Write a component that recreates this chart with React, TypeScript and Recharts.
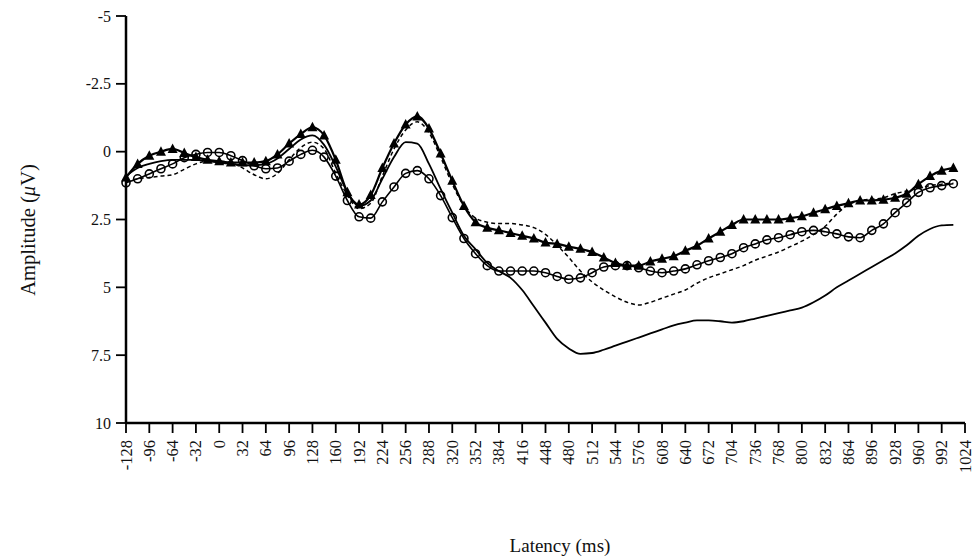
import { LineChart, Line, XAxis, YAxis } from "recharts";

// latency in ms, sampled every 16 ms
const latency = [
  -128, -112, -96, -80, -64, -48, -32, -16, 0, 16, 32, 48, 64, 80, 96, 112, 128,
  144, 160, 176, 192, 208, 224, 240, 256, 272, 288, 304, 320, 336, 352, 368, 384,
  400, 416, 432, 448, 464, 480, 496, 512, 528, 544, 560, 576, 592, 608, 624, 640,
  656, 672, 688, 704, 720, 736, 752, 768, 784, 800, 816, 832, 848, 864, 880, 896,
  912, 928, 944, 960, 976, 992, 1008,
];

// amplitude in microvolts (negative up)
const solidLine = [
  0.9, 0.6, 0.45, 0.35, 0.3, 0.3, 0.3, 0.35, 0.4, 0.45, 0.5, 0.5, 0.45, 0.25, -0.1,
  -0.45, -0.6, -0.25, 0.55, 1.5, 2.0, 1.8, 1.0, 0.2, -0.35, -0.3, 0.45, 1.37, 2.25,
  3.1, 3.6, 4.1, 4.4, 4.65, 5.1, 5.7, 6.3, 6.9, 7.25, 7.45, 7.42, 7.3, 7.15, 7.0,
  6.85, 6.7, 6.55, 6.4, 6.3, 6.22, 6.22, 6.25, 6.3, 6.25, 6.15, 6.05, 5.95, 5.85,
  5.75, 5.55, 5.3, 5.0, 4.75, 4.5, 4.25, 4.0, 3.75, 3.45, 3.1, 2.85, 2.72, 2.7,
];

const dashedLine = [
  1.1, 1.0, 0.95, 0.9, 0.85, 0.65, 0.45, 0.35, 0.35, 0.4, 0.6, 0.85, 1.0, 0.8, 0.3,
  -0.15, -0.35, -0.1, 0.8, 1.6, 2.1, 1.9, 0.9, -0.1, -0.8, -1.1, -0.7, 0.2, 1.2,
  2.0, 2.45, 2.6, 2.65, 2.65, 2.7, 2.8, 3.05, 3.45, 3.9, 4.4, 4.8, 5.1, 5.35, 5.55,
  5.65, 5.55, 5.4, 5.25, 5.1, 4.85, 4.65, 4.5, 4.35, 4.2, 4.0, 3.85, 3.7, 3.5, 3.3,
  3.05, 2.75, 2.3, 1.95, 1.8, 1.75, 1.7, 1.55, 1.45, 1.35, 1.25, 1.2, 1.15,
];

const triangleLine = [
  0.95, 0.45, 0.15, 0.0, -0.1, 0.05, 0.2, 0.3, 0.35, 0.4, 0.4, 0.4, 0.35, 0.1, -0.3,
  -0.65, -0.9, -0.6, 0.3, 1.5, 1.95, 1.6, 0.6, -0.3, -1.0, -1.3, -0.85, 0.07, 1.07,
  2.0, 2.6, 2.8, 2.9, 3.0, 3.1, 3.2, 3.35, 3.4, 3.5, 3.58, 3.7, 3.9, 4.1, 4.2, 4.2,
  4.05, 3.95, 3.85, 3.65, 3.47, 3.2, 2.95, 2.7, 2.5, 2.5, 2.5, 2.5, 2.45, 2.38, 2.25,
  2.12, 2.0, 1.9, 1.8, 1.8, 1.77, 1.7, 1.55, 1.2, 0.9, 0.7, 0.6,
];

const circleLine = [
  1.15, 1.0, 0.82, 0.63, 0.45, 0.22, 0.1, 0.03, 0.03, 0.15, 0.33, 0.52, 0.63, 0.6,
  0.35, 0.1, -0.05, 0.2, 0.9, 1.8, 2.4, 2.45, 1.85, 1.3, 0.8, 0.7, 1.0, 1.62, 2.43,
  3.2, 3.76, 4.2, 4.4, 4.4, 4.4, 4.4, 4.46, 4.6, 4.7, 4.65, 4.46, 4.25, 4.2, 4.2,
  4.28, 4.4, 4.46, 4.4, 4.32, 4.17, 4.02, 3.9, 3.76, 3.54, 3.4, 3.25, 3.17, 3.06,
  2.95, 2.9, 2.95, 3.03, 3.14, 3.17, 2.9, 2.66, 2.25, 1.88, 1.5, 1.33, 1.25, 1.18,
];

const xTicks = [
  -128, -96, -64, -32, 0, 32, 64, 96, 128, 160, 192, 224, 256, 288, 320, 352, 384,
  416, 448, 480, 512, 544, 576, 608, 640, 672, 704, 736, 768, 800, 832, 864, 896,
  928, 960, 992, 1024,
];
const yTicks = [-5, -2.5, 0, 2.5, 5, 7.5, 10];

const serif = "'Liberation Serif', 'DejaVu Serif', serif";

const data = latency.map((t, i) => ({
  t,
  solid: solidLine[i],
  dashed: dashedLine[i],
  tri: triangleLine[i],
  circ: circleLine[i],
}));

const XTick = (props: any) => {
  const { x, y, payload } = props;
  return (
    <text
      transform={`translate(${x},${y + 5}) rotate(-90)`}
      textAnchor="end"
      dominantBaseline="central"
      fontSize={16.5}
      fontFamily={serif}
      fill="#111"
    >
      {payload.value}
    </text>
  );
};

const YTick = (props: any) => {
  const { x, y, payload } = props;
  return (
    <text
      x={x - 3}
      y={y}
      textAnchor="end"
      dominantBaseline="central"
      fontSize={16}
      fontFamily={serif}
      fill="#111"
    >
      {payload.value}
    </text>
  );
};

const YLabel = () => (
  <text
    transform="translate(28,230) rotate(-90)"
    textAnchor="middle"
    dominantBaseline="central"
    fontSize={20.5}
    fontFamily={serif}
    fill="#111"
  >
    Amplitude (<tspan fontStyle="italic">μ</tspan>V)
  </text>
);

const XLabel = () => (
  <text
    x={560}
    y={545}
    textAnchor="middle"
    dominantBaseline="central"
    fontSize={19}
    fontFamily={serif}
    fill="#111"
  >
    Latency (ms)
  </text>
);

const triangleDot = (props: any) => {
  const { cx, cy, key } = props;
  if (cx == null || cy == null) return <g key={key} />;
  return (
    <polygon
      key={key}
      points={`${cx},${cy - 5.5} ${cx - 5},${cy + 4} ${cx + 5},${cy + 4}`}
      fill="#000"
    />
  );
};

export default function App() {
  return (
    <div style={{ position: "absolute", left: 0, top: 0, background: "#fff" }}>
      <LineChart
        width={977}
        height={559}
        data={data}
        margin={{ top: 16, right: 12, bottom: 0, left: 0 }}
      >
        <XAxis
          dataKey="t"
          type="number"
          domain={[-128, 1024]}
          ticks={xTicks}
          interval={0}
          height={136}
          tickSize={10}
          tick={<XTick />}
          axisLine={{ stroke: "#000", strokeWidth: 2.5 }}
          tickLine={{ stroke: "#000", strokeWidth: 1.8 }}
          label={<XLabel />}
        />
        <YAxis
          type="number"
          domain={[-5, 10]}
          reversed
          ticks={yTicks}
          interval={0}
          width={126}
          tickSize={10}
          tick={<YTick />}
          axisLine={{ stroke: "#000", strokeWidth: 2.5 }}
          tickLine={{ stroke: "#000", strokeWidth: 1.8 }}
          label={<YLabel />}
        />
        <Line
          type="monotone"
          dataKey="dashed"
          stroke="#000"
          strokeWidth={1.5}
          strokeDasharray="4 3"
          dot={false}
          isAnimationActive={false}
        />
        <Line
          type="monotone"
          dataKey="solid"
          stroke="#000"
          strokeWidth={1.8}
          dot={false}
          isAnimationActive={false}
        />
        <Line
          type="monotone"
          dataKey="circ"
          stroke="#000"
          strokeWidth={1.6}
          dot={{ r: 4, stroke: "#000", strokeWidth: 1.6, fill: "none" }}
          isAnimationActive={false}
        />
        <Line
          type="monotone"
          dataKey="tri"
          stroke="#000"
          strokeWidth={2.2}
          dot={triangleDot}
          isAnimationActive={false}
        />
      </LineChart>
    </div>
  );
}
